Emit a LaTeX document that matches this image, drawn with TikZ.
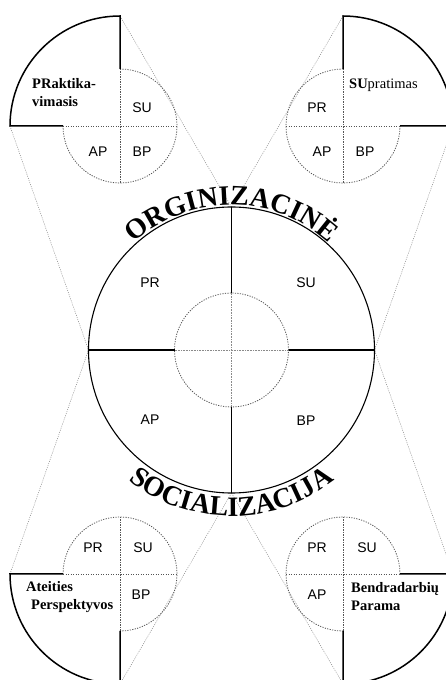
\documentclass[tikz,border=0pt]{standalone}
\usepackage{fontspec}
\setmainfont{Liberation Serif}
\setsansfont{Liberation Sans}
\usetikzlibrary{calc,decorations.text}
\definecolor{inkgray}{HTML}{555555}
\definecolor{guidegray}{HTML}{8A8A8A}
\tikzset{
  rim/.style={line width=1.5pt, draw=black},
  wheel/.style={line width=1.1pt, draw=black},
  dots/.style={dash pattern=on 1.2pt off 1.3pt, line width=.8pt, draw=inkgray},
  faint/.style={dash pattern=on .8pt off .8pt, line width=.45pt, draw=guidegray},
  guide/.style={dash pattern=on 1pt off 1.2pt, line width=.5pt, draw=guidegray},
  quad/.style={font=\sffamily\fontsize{14}{16}\selectfont, inner sep=0pt},
  tag/.style={font=\fontsize{14.5}{18}\selectfont, align=left, inner sep=0pt, anchor=west},
  arcword/.style={decorate, decoration={text along path, text align=center,
                  text={|\bfseries\fontsize{28}{28}\selectfont|#1}}}
}

\begin{document}
\begin{tikzpicture}[x=1pt, y=1pt]
  \useasboundingbox (0,0) rectangle (445,680);

  % centres
  \coordinate (M) at (231.5,330);
  \coordinate (tl) at (120,554);
  \coordinate (tr) at (343,554);
  \coordinate (bl) at (120,106);
  \coordinate (br) at (343,106);

  % points on the big wheel
  \coordinate (Mtop) at ($(M)+(0,143)$);
  \coordinate (Mbot) at ($(M)+(0,-143)$);
  \coordinate (Mleft) at ($(M)+(-143,0)$);
  \coordinate (Mright) at ($(M)+(143,0)$);

  % guide lines from the corner figures to the wheel
  \draw[guide] ($(tl)+(0,110)$) -- (Mtop);
  \draw[guide] ($(tr)+(0,110)$) -- (Mtop);
  \draw[guide] ($(tl)+(-110,0)$) -- (Mleft);
  \draw[guide] ($(bl)+(-110,0)$) -- (Mleft);
  \draw[guide] ($(tr)+(110,0)$) -- (Mright);
  \draw[guide] ($(br)+(110,0)$) -- (Mright);
  \draw[guide] ($(bl)+(0,-110)$) -- (Mbot);
  \draw[guide] ($(br)+(0,-110)$) -- (Mbot);

  % the big wheel
  \draw[faint] ($(M)+(-57,0)$) -- ($(M)+(57,0)$);
  \draw[faint] ($(M)+(0,-57)$) -- ($(M)+(0,57)$);
  \draw[dots] (M) circle[radius=57];
  \draw[wheel] (M) circle[radius=143];
  \draw[wheel] (Mleft) -- ($(M)+(-57,0)$) ($(M)+(57,0)$) -- (Mright);
  \draw[wheel] (Mtop) -- ($(M)+(0,57)$) ($(M)+(0,-57)$) -- (Mbot);

  \node[quad] (mPR) at (150,397) {PR};
  \node[quad] (mSU) at (306,397) {SU};
  \node[quad] (mAP) at (150,260) {AP};
  \node[quad] (mBP) at (306,259) {BP};

  % curved titles
  \path[arcword=ORGINIZACINĖ] ($(M)+(150:145)$) arc[start angle=150, end angle=30, radius=145];
  \path[arcword=SOCIALIZACIJA] ($(M)+(210:166)$) arc[start angle=210, end angle=330, radius=166];

  % top left: PR opened
  \draw[dots] ($(tl)+(0,57)$) arc[start angle=90, end angle=-180, radius=57];
  \draw[dots] ($(tl)+(-57,0)$) -- ($(tl)+(57,0)$);
  \draw[dots] ($(tl)+(0,57)$) -- ($(tl)+(0,-57)$);
  \draw[rim] ($(tl)+(-57,0)$) -- ($(tl)+(-110,0)$) arc[start angle=180, end angle=90, radius=110] -- ($(tl)+(0,57)$);
  \node[tag] (prak) at (32,587) {\bfseries PRaktika-\\\bfseries vimasis};
  \node[quad] (tlSU) at (142,572) {SU};
  \node[quad] (tlAP) at (98,528) {AP};
  \node[quad] (tlBP) at (142,528) {BP};

  % top right: SU opened
  \draw[dots] ($(tr)+(0,57)$) arc[start angle=90, end angle=360, radius=57];
  \draw[dots] ($(tr)+(-57,0)$) -- ($(tr)+(57,0)$);
  \draw[dots] ($(tr)+(0,57)$) -- ($(tr)+(0,-57)$);
  \draw[rim] ($(tr)+(0,57)$) -- ($(tr)+(0,110)$) arc[start angle=90, end angle=0, radius=110] -- ($(tr)+(57,0)$);
  \node[tag] (supr) at (349,595) {\textbf{SU}pratimas};
  \node[quad] (trPR) at (317,572) {PR};
  \node[quad] (trAP) at (322,528) {AP};
  \node[quad] (trBP) at (365,528) {BP};

  % bottom left: AP opened
  \draw[dots] ($(bl)+(-57,0)$) arc[start angle=180, end angle=-90, radius=57];
  \draw[dots] ($(bl)+(-57,0)$) -- ($(bl)+(57,0)$);
  \draw[dots] ($(bl)+(0,57)$) -- ($(bl)+(0,-57)$);
  \draw[rim] ($(bl)+(-57,0)$) -- ($(bl)+(-110,0)$) arc[start angle=180, end angle=270, radius=110] -- ($(bl)+(0,-57)$);
  \node[tag] (atei) at (26,83) {\bfseries Ateities\\\bfseries\hspace*{5pt}Perspektyvos};
  \node[quad] (blPR) at (93,132) {PR};
  \node[quad] (blSU) at (143,132) {SU};
  \node[quad] (blBP) at (141,85) {BP};

  % bottom right: BP opened
  \draw[dots] ($(br)+(57,0)$) arc[start angle=0, end angle=270, radius=57];
  \draw[dots] ($(br)+(-57,0)$) -- ($(br)+(57,0)$);
  \draw[dots] ($(br)+(0,57)$) -- ($(br)+(0,-57)$);
  \draw[rim] ($(br)+(57,0)$) -- ($(br)+(110,0)$) arc[start angle=0, end angle=-90, radius=110] -- ($(br)+(0,-57)$);
  \node[tag] (bend) at (351,83) {\bfseries Bendradarbių\\\bfseries Parama};
  \node[quad] (brPR) at (317,132) {PR};
  \node[quad] (brSU) at (367,132) {SU};
  \node[quad] (brAP) at (317,85) {AP};
\end{tikzpicture}
\end{document}
